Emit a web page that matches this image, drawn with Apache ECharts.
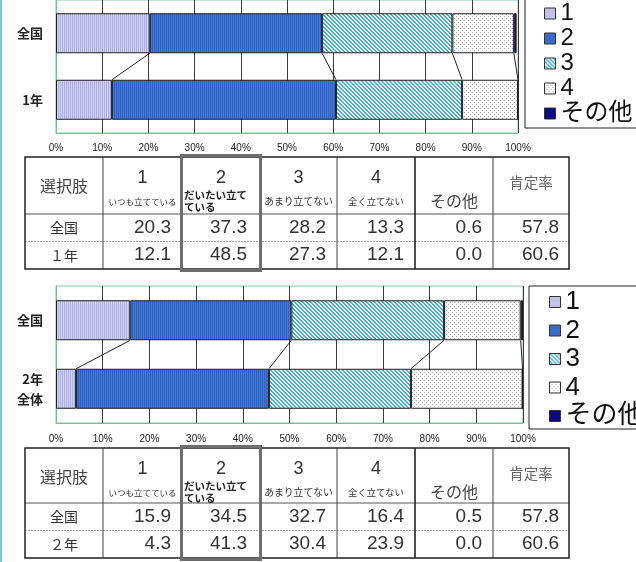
<!DOCTYPE html>
<html>
<head>
<meta charset="utf-8">
<script src="https://cdn.jsdelivr.net/npm/echarts@6.0.0/dist/echarts.min.js"></script>
<style>
html,body{margin:0;padding:0;background:#fff;}
#chart{width:636px;height:562px;}
</style>
</head>
<body>
<div id="chart"></div>
<script>
// ---------------- data ----------------
const seriesNames = ['1', '2', '3', '4', 'その他'];
const xTickLabels = ['0%', '10%', '20%', '30%', '40%', '50%', '60%', '70%', '80%', '90%', '100%'];

const topCategories = ['全国', '1年'];
const top1 = [20.3, 12.1];
const top2 = [37.3, 48.5];
const top3 = [28.2, 27.3];
const top4 = [13.3, 12.1];
const topOther = [0.6, 0.0];
const topRate = [57.8, 60.6];

const bottomCategories = ['全国', '2年\n全体'];
const bot1 = [15.9, 4.3];
const bot2 = [34.5, 41.3];
const bot3 = [32.7, 30.4];
const bot4 = [16.4, 23.9];
const botOther = [0.5, 0.0];
const botRate = [57.8, 60.6];

const tableHeads = ['選択肢', '1', '2', '3', '4', 'その他', '肯定率'];
const tableSubs = ['', 'いつも立てている', 'だいたい立て\nている', 'あまり立てない', '全く立てない', '', ''];
const topRowLabels = ['全国', '１年'];
const botRowLabels = ['全国', '２年'];

// ---------------- styles ----------------
const FF_CJK = "'Noto Sans CJK JP', sans-serif";
const FF_LAT = "'Liberation Sans', 'Noto Sans CJK JP', sans-serif";
const BAR_W = 40;

function pat(w, h, fn) {
  const c = document.createElement('canvas');
  c.width = w; c.height = h;
  const g = c.getContext('2d');
  fn(g);
  return { image: c, repeat: 'repeat' };
}
const fill1 = pat(2, 2, g => { g.fillStyle = '#d2d2f4'; g.fillRect(0, 0, 2, 2); g.fillStyle = '#b0b0e0'; g.fillRect(0, 0, 1, 2); });
const fill2 = pat(2, 2, g => { g.fillStyle = '#4378d6'; g.fillRect(0, 0, 2, 2); g.fillStyle = '#2f62c2'; g.fillRect(0, 0, 1, 2); });
const fill3 = pat(4, 4, g => {
  for (let x = 0; x < 4; x++) for (let y = 0; y < 4; y++) {
    g.fillStyle = (((x - y) % 4 + 4) % 4) < 2 ? '#3db4d6' : '#ffffff';
    g.fillRect(x, y, 1, 1);
  }
});
const fill4 = pat(4, 4, g => { g.fillStyle = '#ffffff'; g.fillRect(0, 0, 4, 4); g.fillStyle = '#a8a8a8'; g.fillRect(0, 0, 1, 1); g.fillRect(2, 2, 1, 1); });
const fills = [fill1, fill2, fill3, fill4, '#0a0a82'];

const topVals = [top1, top2, top3, top4, topOther];
const botVals = [bot1, bot2, bot3, bot4, botOther];

function barSeries(vals, idx) {
  return vals.map((v, i) => ({
    name: seriesNames[i], type: 'bar', stack: 'st' + idx,
    xAxisIndex: idx, yAxisIndex: idx, barWidth: BAR_W,
    data: v,
    itemStyle: { color: fills[i], borderColor: '#1e1e1e', borderWidth: 1 },
    emphasis: { disabled: true }, silent: true
  }));
}

function connectorSeries(vals, idx) {
  const data = [];
  let a = 0, b = 0;
  for (let i = 0; i < 4; i++) { a += vals[i][0]; b += vals[i][1]; data.push([a, b, 0]); }
  return {
    type: 'custom', xAxisIndex: idx, yAxisIndex: idx, silent: true, z: 5,
    encode: { x: [0, 1], y: 2 },
    data: data,
    renderItem: function (params, api) {
      const p0 = api.coord([api.value(0), 0]);
      const p1 = api.coord([api.value(1), 1]);
      return {
        type: 'line',
        shape: { x1: p0[0], y1: p0[1] + BAR_W / 2, x2: p1[0], y2: p1[1] - BAR_W / 2 },
        style: { stroke: '#222', lineWidth: 1 }
      };
    }
  };
}

function xAxis(idx, margin) {
  return {
    type: 'value', gridIndex: idx, min: 0, max: 100, interval: 10,
    axisLine: { show: true, lineStyle: { color: '#7dbb97', width: 1 } },
    axisTick: { show: false },
    splitLine: { show: true, lineStyle: { color: '#3c3c3c', width: 1 } },
    axisLabel: { formatter: v => xTickLabels[Math.round(v / 10)], fontSize: 10, color: '#222', margin: margin, fontFamily: FF_LAT }
  };
}
function yAxis(idx, cats) {
  return {
    type: 'category', gridIndex: idx, inverse: true, data: cats,
    axisLine: { show: true, lineStyle: { color: '#7dbb97', width: 1 } },
    axisTick: { show: false },
    axisLabel: { fontSize: 13, fontWeight: 'bold', color: '#222', margin: 13, lineHeight: 20, fontFamily: FF_CJK }
  };
}

// ---------------- tables ----------------
const COLX = [25, 103, 182, 260, 337, 415, 493, 569];
const SUB_SIZE = [0, 8.5, 10.5, 9.8, 9.3, 0, 0];
function tableEls(top, headH, rowLabels, vals, rates) {
  const els = [];
  const rowH = 27.5;
  const yH = top + headH, yR = yH + rowH, yB = yR + rowH;
  const cx = i => (COLX[i] + COLX[i + 1]) / 2;
  const T = (text, x, y, size, o) => {
    o = o || {};
    const al = o.align || 'center';
    els.push({
      type: 'text', silent: true, z: 20,
      style: {
        text: text, x: x, y: y, fill: o.fill || '#333',
        font: (o.weight || 'normal') + ' ' + size + 'px ' + (o.family || FF_CJK),
        textAlign: al, align: al, textVerticalAlign: 'middle', verticalAlign: 'middle'
      }
    });
  };
  const L = (x1, y1, x2, y2, stroke, w, dash) => els.push({
    type: 'line', silent: true, z: 15, shape: { x1, y1, x2, y2 },
    style: { stroke: stroke, lineWidth: w, lineDash: dash || null }
  });
  els.push({ type: 'rect', silent: true, z: 14, shape: { x: COLX[0], y: top, width: COLX[7] - COLX[0], height: yB - top }, style: { fill: '#fff' } });
  L(COLX[0], yH, COLX[7], yH, '#555', 1);
  L(COLX[0], yR, COLX[7], yR, '#a0a0a0', 1, [2, 1]);
  [1, 2, 3, 4, 6].forEach(i => L(COLX[i], top, COLX[i], yB, '#444', 1));
  L(COLX[5], top, COLX[5], yB, '#222', 1.6);
  els.push({ type: 'rect', silent: true, z: 16, shape: { x: COLX[0], y: top, width: COLX[7] - COLX[0], height: yB - top }, style: { fill: null, stroke: '#222', lineWidth: 1.5 } });
  els.push({ type: 'rect', silent: true, z: 17, shape: { x: COLX[2] - 0.5, y: top - 1.5, width: COLX[3] - COLX[2] + 1, height: yB - top + 3 }, style: { fill: null, stroke: '#6e6e6e', lineWidth: 3 } });
  T(tableHeads[0], cx(0), top + 29, 16, { fill: '#444' });
  for (let i = 1; i <= 4; i++) T(tableHeads[i], cx(i), top + 21, 18, { family: FF_LAT });
  [1, 3, 4].forEach(i => T(tableSubs[i], cx(i), top + 44.5, SUB_SIZE[i]));
  const sub2 = tableSubs[2].split('\n');
  T(sub2[0], COLX[2] + 2, top + 38, SUB_SIZE[2], { align: 'left', weight: 'bold', fill: '#222' });
  T(sub2[1], COLX[2] + 2, top + 50, SUB_SIZE[2], { align: 'left', weight: 'bold', fill: '#222' });
  T(tableHeads[5], cx(5), top + 44, 16, { fill: '#444' });
  T(tableHeads[6], cx(6), top + 25, 14.5, { fill: '#666' });
  for (let r = 0; r < 2; r++) {
    const y = yH + rowH * (r + 0.5);
    T(rowLabels[r], cx(0), y, 14);
    for (let c = 0; c < 5; c++) {
      const pad = c === 1 ? 13 : 11;
      T(vals[c][r].toFixed(1), COLX[c + 2] - pad, y, 19, { align: 'right', family: FF_LAT });
    }
    T(rates[r].toFixed(1), COLX[7] - 10, y, 19, { align: 'right', family: FF_LAT });
  }
  return els;
}

const graphics = [].concat(
  [{ type: 'line', silent: true, z: 30, shape: { x1: 1, y1: 0, x2: 1, y2: 562 }, style: { stroke: '#6cc8ee', lineWidth: 2 } }],
  tableEls(157, 57, topRowLabels, topVals, topRate),
  tableEls(448, 55, botRowLabels, botVals, botRate)
);

const legendText = (size, lh) => ({ fontSize: size, lineHeight: lh, color: '#111', fontFamily: FF_LAT });

const option = {
  animation: false,
  backgroundColor: '#ffffff',
  grid: [
    { left: 56, top: -2, width: 462, height: 135, show: true, borderColor: '#8cc4a4', borderWidth: 1, backgroundColor: 'transparent' },
    { left: 56, top: 286, width: 467, height: 137, show: true, borderColor: '#8cc4a4', borderWidth: 1, backgroundColor: 'transparent' }
  ],
  xAxis: [xAxis(0, 10), xAxis(1, 11)],
  yAxis: [yAxis(0, topCategories), yAxis(1, bottomCategories)],
  legend: [
    {
      data: seriesNames, orient: 'vertical', left: 525, top: -5, padding: [6, 60, 2, 19],
      icon: 'rect', itemWidth: 11, itemHeight: 11, itemGap: 0, selectedMode: false,
      borderColor: '#222', borderWidth: 1, backgroundColor: '#fff',
      textStyle: legendText(24, 25), itemStyle: { borderColor: '#333', borderWidth: 1 }
    },
    {
      data: seriesNames, orient: 'vertical', left: 529, top: 286, padding: [3, 60, 0, 20],
      icon: 'rect', itemWidth: 11, itemHeight: 11, itemGap: 2.5, selectedMode: false,
      borderColor: '#222', borderWidth: 1, backgroundColor: '#fff',
      textStyle: legendText(26, 26), itemStyle: { borderColor: '#333', borderWidth: 1 }
    }
  ],
  series: [].concat(
    barSeries(topVals, 0), [connectorSeries(topVals, 0)],
    barSeries(botVals, 1), [connectorSeries(botVals, 1)]
  ),
  graphic: { elements: graphics }
};

const chart = echarts.init(document.getElementById('chart'), null, { renderer: 'canvas' });
chart.setOption(option);
</script>
</body>
</html>
